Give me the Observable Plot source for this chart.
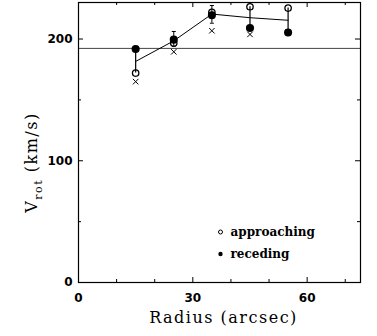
<!DOCTYPE html>
<html><head><meta charset="utf-8">
<script src="https://cdn.jsdelivr.net/npm/d3@7"></script>
<script src="https://cdn.jsdelivr.net/npm/@observablehq/plot@0.6"></script>
<style>body{margin:0;background:#fff}</style>
</head><body><div id="chart"></div>
<script>
// ---- data ----
const radius      = [15, 25, 35, 45, 55];
const approaching = [172, 196.7, 221.9, 226.5, 225.4];
const receding    = [191.8, 199.5, 219.5, 209, 205.4];
const crosses     = [165, 189.5, 206.8, 203.8, 205.5];
const meanCurve   = [181.6, 198.5, 220.5, 217.5, 215.4];
const errRadius   = [25, 35];
const errLow      = [194, 213];
const errHigh     = [206.2, 227.5];
const systemic    = [192.3];
const xMajor = [0, 30, 60];
const xMinor = [10, 20, 40, 50, 70];
const yMajor = [0, 100, 200];
const yMinor = [50, 150];
const legendLabels = ["approaching", "receding"];
const xLabel = "Radius (arcsec)";
const yLabelMain = "V", yLabelSub = "rot", yLabelRest = " (km/s)";

// ---- layout ----
const W = 377, H = 336, mL = 78, mR = 17, mT = 2, mB = 54;
const ph = H - mT - mB, pw = W - mL - mR;
const majorLen = 5, minorLen = 3;

const rows = radius.map((r, i) => ({r, a: approaching[i], rc: receding[i], c: crosses[i], m: meanCurve[i]}));
const errs = errRadius.map((r, i) => ({r, lo: errLow[i], hi: errHigh[i]}));
const capSymbol = {draw(ctx, size) { const r = Math.sqrt(size / Math.PI); ctx.moveTo(-r, 0); ctx.lineTo(r, 0); }};

const tickFont = {fontFamily: "DejaVu Sans", fontSize: 12, fontWeight: "bold"};
const serif = "DejaVu Serif";

const chart = Plot.plot({
  width: W, height: H,
  marginLeft: mL, marginRight: mR, marginTop: mT, marginBottom: mB,
  style: {background: "#fff", color: "#000"},
  x: {domain: [0, 74]},
  y: {domain: [0, 230]},
  marks: [
    Plot.ruleY(systemic, {stroke: "#444", strokeWidth: 1}),
    Plot.ruleX(xMajor, {insetTop: ph - majorLen, stroke: "#000"}),
    Plot.ruleX(xMinor, {insetTop: ph - minorLen, stroke: "#000"}),
    Plot.ruleX(xMajor, {insetBottom: ph - majorLen, stroke: "#000"}),
    Plot.ruleX(xMinor, {insetBottom: ph - minorLen, stroke: "#000"}),
    Plot.ruleY(yMajor, {insetRight: pw - majorLen, stroke: "#000"}),
    Plot.ruleY(yMinor, {insetRight: pw - minorLen, stroke: "#000"}),
    Plot.ruleY(yMajor, {insetLeft: pw - majorLen, stroke: "#000"}),
    Plot.ruleY(yMinor, {insetLeft: pw - minorLen, stroke: "#000"}),
    Plot.axisX({ticks: xMajor, tickSize: 0, tickPadding: 11, label: null, ...tickFont}),
    Plot.axisY({ticks: yMajor, tickSize: 0, tickPadding: 6, label: null, ...tickFont}),
    Plot.ruleX(rows, {x: "r", y1: "a", y2: "rc", stroke: "#000", strokeWidth: 1.2}),
    Plot.ruleX(errs, {x: "r", y1: "lo", y2: "hi", stroke: "#000", strokeWidth: 1}),
    Plot.dot(errs, {x: "r", y: "hi", symbol: capSymbol, r: 2, stroke: "#000", strokeWidth: 1}),
    Plot.dot(errs, {x: "r", y: "lo", symbol: capSymbol, r: 2, stroke: "#000", strokeWidth: 1}),
    Plot.line(rows, {x: "r", y: "m", stroke: "#000", strokeWidth: 1}),
    Plot.dot(rows, {x: "r", y: "c", symbol: "times", r: 2.6, stroke: "#000", strokeWidth: 1}),
    Plot.dot(rows, {x: "r", y: "a", r: 3.2, stroke: "#000", fill: "none", strokeWidth: 1.3}),
    Plot.dot(rows, {x: "r", y: "rc", r: 3.3, fill: "#000", stroke: "#000"}),
    Plot.dot([legendLabels[0]], {frameAnchor: "top-left", dx: 142, dy: 229.5, r: 2, stroke: "#000", fill: "none", strokeWidth: 1}),
    Plot.dot([legendLabels[1]], {frameAnchor: "top-left", dx: 142, dy: 251.5, r: 2.2, fill: "#000"}),
    Plot.text([legendLabels[0]], {text: d => d, frameAnchor: "top-left", dx: 152, dy: 229.5, textAnchor: "start", lineAnchor: "middle", fontFamily: serif, fontWeight: "bold", fontSize: 12, fill: "#000"}),
    Plot.text([legendLabels[1]], {text: d => d, frameAnchor: "top-left", dx: 152, dy: 251.5, textAnchor: "start", lineAnchor: "middle", fontFamily: serif, fontWeight: "bold", fontSize: 12, fill: "#000"}),
    Plot.text([xLabel], {text: d => d, frameAnchor: "bottom", dx: 4, dy: 35, lineAnchor: "middle", fontFamily: serif, fontSize: 16, fill: "#000", className: "xlab"}),
    Plot.frame({stroke: "#000", strokeWidth: 1.2})
  ]
});

const svg = d3.select(chart);
svg.selectAll(".xlab text").attr("letter-spacing", "1.5px");
svg.selectAll("text.xlab").attr("letter-spacing", "1.5px");
svg.selectAll(".xlab").attr("letter-spacing", "1.5px");

const t = svg.append("text")
  .attr("transform", "translate(36.5,162.5) rotate(-90)")
  .attr("text-anchor", "middle")
  .attr("font-family", serif)
  .attr("font-size", 16)
  .attr("letter-spacing", "1.5px")
  .attr("fill", "#000");
t.append("tspan").text(yLabelMain);
t.append("tspan").attr("font-size", 11).attr("dy", 5.5).text(yLabelSub);
t.append("tspan").attr("dy", -5.5).text(yLabelRest);

document.getElementById("chart").appendChild(chart);
</script>
</body></html>
